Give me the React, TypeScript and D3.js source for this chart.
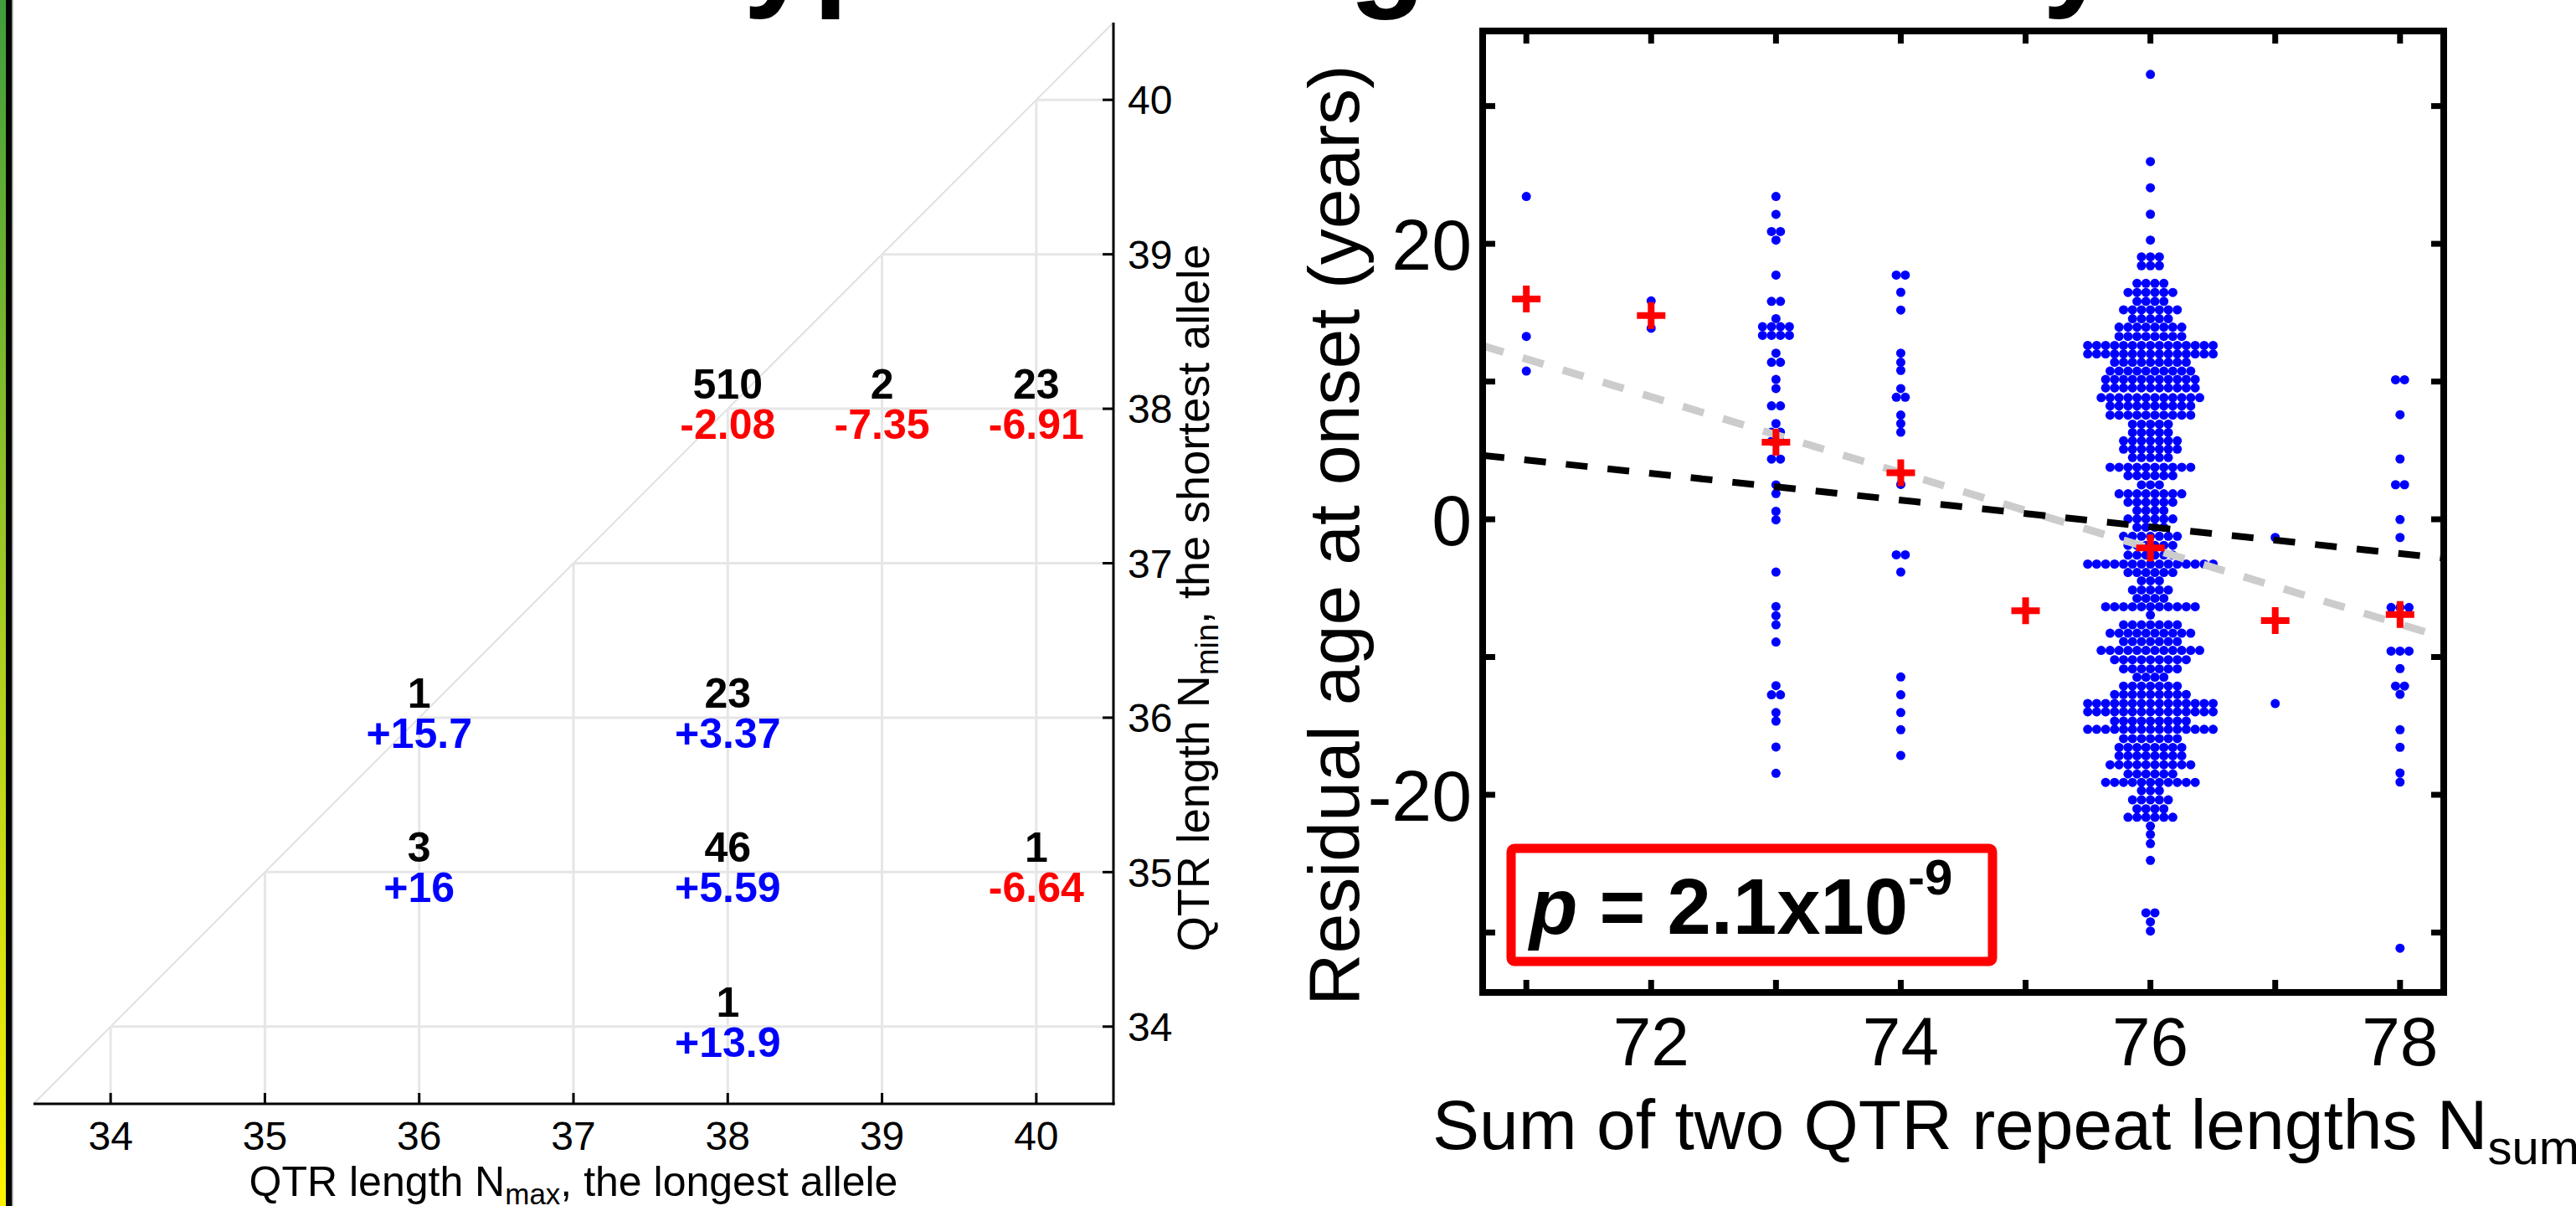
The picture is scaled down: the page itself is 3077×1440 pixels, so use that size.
import React, { useEffect, useRef } from 'react';
import * as d3 from 'd3';

const W = 3077, H = 1440;
const FONT = '"Liberation Sans", Arial, Helvetica, sans-serif';

// ---- left panel: (Nmax, Nmin) genotype grid ----
const gridTicks = [34, 35, 36, 37, 38, 39, 40];
const cellNmax = [38, 39, 40, 36, 38, 36, 38, 40, 38];
const cellNmin = [38, 38, 38, 36, 36, 35, 35, 35, 34];
const cellCount = [510, 2, 23, 1, 23, 3, 46, 1, 1];
const cellMean = [-2.08, -7.35, -6.91, 15.7, 3.37, 16, 5.59, -6.64, 13.9];

// ---- right panel: residual age at onset vs Nsum ----
const sumTicks = [71, 72, 73, 74, 75, 76, 77, 78];
const sumLabels = [72, 74, 76, 78];
const residTicks = [-30, -20, -10, 0, 10, 20, 30];
const residLabels = [-20, 0, 20];

// swarm rows: [residual (years), dots in the row]
const rows71 = [[23.44, 1], [13.28, 1], [10.76, 1]];
const rows72 = [[15.85, 1], [13.87, 1]];
const rows73 = [
  [23.44, 1], [22.14, 1], [20.89, 2], [20.27, 1], [17.73, 1], [15.82, 2], [14.57, 1],
  [13.98, 4], [13.35, 4], [12.06, 1], [11.4, 2], [10.15, 1], [9.49, 1], [8.24, 2],
  [6.95, 1], [6.32, 2], [5.66, 2], [4.37, 2], [2.5, 1], [1.87, 1], [0.58, 1], [-0.04, 1],
  [-3.83, 1], [-6.33, 1], [-7.0, 1], [-7.66, 1], [-8.91, 1], [-12.08, 1], [-12.74, 2],
  [-14.03, 1], [-14.65, 1], [-16.53, 1], [-18.44, 1],
];
const rows74 = [
  [17.73, 2], [16.48, 1], [15.19, 1], [12.06, 1], [11.4, 1], [10.81, 1], [9.49, 1],
  [8.86, 2], [7.57, 1], [6.95, 1], [6.32, 1], [3.34, 1], [2.53, 1], [-2.58, 2], [-3.83, 1],
  [-11.45, 1], [-12.74, 1], [-14.03, 1], [-15.28, 1], [-17.15, 1],
];
const rows75 = [[-6.64, 1]];
const rows76 = [
  [32.3, 1], [25.97, 1], [24.07, 1], [22.15, 1], [20.27, 1], [19.05, 3], [18.41, 3],
  [17.13, 4], [16.47, 6], [15.82, 4], [15.21, 7], [14.56, 5], [13.95, 8], [13.28, 8],
  [12.62, 15], [12.01, 15], [11.4, 9], [10.76, 10], [10.15, 11], [9.54, 11], [8.83, 12],
  [8.23, 10], [7.56, 10], [6.91, 5], [6.3, 5], [5.7, 7], [5.09, 7], [4.48, 5], [3.78, 10],
  [3.17, 6], [2.5, 3], [1.85, 8], [1.24, 6], [0.64, 4], [0.03, 6], [-0.58, 4], [-1.23, 7],
  [-1.89, 6], [-2.6, 6], [-3.25, 15], [-3.86, 6], [-4.46, 3], [-5.13, 5], [-5.74, 4],
  [-6.35, 11], [-6.95, 1], [-7.66, 7], [-8.27, 10], [-8.88, 7], [-9.52, 12], [-10.19, 9],
  [-10.86, 7], [-11.46, 4], [-12.11, 7], [-12.72, 9], [-13.37, 15], [-13.98, 15],
  [-14.65, 9], [-15.25, 15], [-15.92, 7], [-16.56, 8], [-17.17, 8], [-17.82, 10],
  [-18.49, 6], [-19.1, 11], [-19.7, 3], [-20.37, 5], [-21.02, 4], [-21.63, 6], [-22.27, 1],
  [-22.88, 1], [-23.55, 1], [-24.76, 1], [-28.57, 2], [-29.22, 1], [-29.89, 1],
];
const rows77 = [[-1.32, 1], [-13.38, 1]];
const rows78 = [
  [10.13, 2], [7.59, 1], [4.38, 1], [2.51, 2], [-0.02, 1], [-1.32, 1], [-6.4, 3], [-9.57, 3],
  [-10.84, 1], [-12.11, 2], [-12.71, 1], [-15.28, 1], [-16.55, 1], [-18.42, 1], [-19.08, 1],
  [-31.14, 1],
];
const swarmRows = [rows71, rows72, rows73, rows74, rows75, rows76, rows77, rows78];

const meanResid = [16, 14.8, 5.59, 3.37, -6.64, -2.08, -7.35, -6.91];
// dashed fits, [Nsum, residual] at the two box edges
const fitAll = [[70.65, 4.64], [78.35, -2.83]];
const fitMeans = [[70.65, 12.6], [78.35, -8.58]];

const App = () => {
  const svgRef = useRef(null);

  useEffect(() => {
    const svg = d3.select(svgRef.current);
    svg.selectAll('*').remove();
    svg.style('font-family', FONT);

    // left edge decoration
    const defs = svg.append('defs');
    const grad = defs.append('linearGradient').attr('id', 'edgeGrad')
      .attr('x1', 0).attr('y1', 0).attr('x2', 0).attr('y2', 1);
    grad.append('stop').attr('offset', 0).attr('stop-color', '#3f9e3c');
    grad.append('stop').attr('offset', 0.5).attr('stop-color', '#a5cb22');
    grad.append('stop').attr('offset', 1).attr('stop-color', '#fff200');
    svg.append('rect').attr('x', 0).attr('y', 0).attr('width', 7).attr('height', H).attr('fill', 'url(#edgeGrad)');
    svg.append('rect').attr('x', 7).attr('y', 0).attr('width', 7).attr('height', H).attr('fill', '#000');
    svg.append('rect').attr('x', 14).attr('y', 0).attr('width', 1.5).attr('height', H).attr('fill', '#888');

    // cropped title (only descenders visible)
    const title = svg.append('g').attr('font-size', 150).attr('font-weight', 'bold').attr('fill', '#000');
    [['type', 838], ['age', 1528], ['by', 2348]].forEach(([t, x]) => {
      title.append('text').attr('x', x).attr('y', -8).text(t);
    });

    // ================= LEFT PANEL =================
    const x = d3.scaleLinear().domain([33.5, 40.5]).range([40, 1330]);
    const y = d3.scaleLinear().domain([33.5, 40.5]).range([1318, 27]);
    const gl = svg.append('g');

    gl.append('line')
      .attr('x1', x(33.5)).attr('y1', y(33.5)).attr('x2', x(40.5)).attr('y2', y(40.5))
      .attr('stroke', '#e0e0e0').attr('stroke-width', 2);
    gridTicks.forEach(v => {
      gl.append('line').attr('x1', x(v)).attr('x2', x(40.5)).attr('y1', y(v)).attr('y2', y(v))
        .attr('stroke', '#e6e6e6').attr('stroke-width', 3);
      gl.append('line').attr('x1', x(v)).attr('x2', x(v)).attr('y1', y(v)).attr('y2', y(33.5))
        .attr('stroke', '#e6e6e6').attr('stroke-width', 3);
    });

    // axes
    gl.append('line').attr('x1', x(33.5)).attr('x2', x(40.5) + 1.5).attr('y1', y(33.5)).attr('y2', y(33.5))
      .attr('stroke', '#000').attr('stroke-width', 3);
    gl.append('line').attr('x1', x(40.5)).attr('x2', x(40.5)).attr('y1', y(40.5)).attr('y2', y(33.5) + 1.5)
      .attr('stroke', '#000').attr('stroke-width', 3);
    gridTicks.forEach(v => {
      gl.append('line').attr('x1', x(v)).attr('x2', x(v)).attr('y1', y(33.5)).attr('y2', y(33.5) - 13)
        .attr('stroke', '#000').attr('stroke-width', 3);
      gl.append('line').attr('x1', x(40.5)).attr('x2', x(40.5) - 13).attr('y1', y(v)).attr('y2', y(v))
        .attr('stroke', '#000').attr('stroke-width', 3);
      gl.append('text').attr('x', x(v)).attr('y', 1373).attr('text-anchor', 'middle')
        .attr('font-size', 48).text(v);
      gl.append('text').attr('x', 1347).attr('y', y(v)).attr('dy', '0.36em')
        .attr('font-size', 48).text(v);
    });

    const xt = gl.append('text').attr('x', x(37)).attr('y', 1428).attr('text-anchor', 'middle').attr('font-size', 50);
    xt.append('tspan').text('QTR length N');
    xt.append('tspan').attr('font-size', 35).attr('dy', 10).text('max');
    xt.append('tspan').attr('dy', -10).text(', the longest allele');

    const yt = gl.append('text').attr('transform', 'translate(1444,714) rotate(-90)')
      .attr('text-anchor', 'middle').attr('font-size', 54);
    yt.append('tspan').text('QTR length N');
    yt.append('tspan').attr('font-size', 38).attr('dy', 11).text('min');
    yt.append('tspan').attr('dy', -11).text(', the shortest allele');

    // cell annotations
    cellCount.forEach((n, i) => {
      const cx = x(cellNmax[i]), cy = y(cellNmin[i]);
      const m = cellMean[i];
      gl.append('text').attr('x', cx).attr('y', cy - 12).attr('text-anchor', 'middle')
        .attr('font-size', 50).attr('font-weight', 'bold').attr('fill', '#000').text(n);
      gl.append('text').attr('x', cx).attr('y', cy + 36).attr('text-anchor', 'middle')
        .attr('font-size', 50).attr('font-weight', 'bold')
        .attr('fill', m > 0 ? '#0000ff' : '#ff0000').text((m > 0 ? '+' : '') + m);
    });

    // ================= RIGHT PANEL =================
    const sx = d3.scaleLinear().domain([70.65, 78.35]).range([1771, 2919]);
    const sy = d3.scaleLinear().domain([-34.35, 35.45]).range([1185, 37]);
    const gr = svg.append('g');

    defs.append('clipPath').attr('id', 'boxClip').append('rect')
      .attr('x', sx(70.65)).attr('y', sy(35.45)).attr('width', sx(78.35) - sx(70.65)).attr('height', sy(-34.35) - sy(35.45));

    // swarm dots
    const dx = 10.7;
    const dots = [];
    swarmRows.forEach((rows, k) => {
      rows.forEach(([v, n]) => {
        for (let j = 0; j < n; j++) dots.push({ s: sumTicks[k], v, off: (j - (n - 1) / 2) * dx });
      });
    });
    gr.append('g').selectAll('circle').data(dots).join('circle')
      .attr('cx', d => sx(d.s) + d.off).attr('cy', d => sy(d.v)).attr('r', 5.5).attr('fill', '#0000ff');

    const line = d3.line().x(d => sx(d[0])).y(d => sy(d[1]));
    const fits = gr.append('g').attr('clip-path', 'url(#boxClip)');
    fits.append('path').attr('d', line(fitMeans)).attr('fill', 'none').attr('stroke', '#cccccc')
      .attr('stroke-width', 9).attr('stroke-dasharray', '26 24');
    fits.append('path').attr('d', line(fitAll)).attr('fill', 'none').attr('stroke', '#000')
      .attr('stroke-width', 8).attr('stroke-dasharray', '26 24');

    // mean crosses
    gr.append('g').selectAll('path.cross').data(meanResid).join('path').attr('class', 'cross')
      .attr('transform', (d, i) => `translate(${sx(sumTicks[i])},${sy(d)})`)
      .attr('d', 'M-17,0H17M0,-16V16').attr('stroke', '#ff0000').attr('stroke-width', 8).attr('fill', 'none');

    // box + ticks
    const bx0 = sx(70.65), bx1 = sx(78.35), by0 = sy(35.45), by1 = sy(-34.35);
    sumTicks.forEach(t => {
      gr.append('line').attr('x1', sx(t)).attr('x2', sx(t)).attr('y1', by1).attr('y2', by1 - 15)
        .attr('stroke', '#000').attr('stroke-width', 7);
      gr.append('line').attr('x1', sx(t)).attr('x2', sx(t)).attr('y1', by0).attr('y2', by0 + 15)
        .attr('stroke', '#000').attr('stroke-width', 7);
    });
    residTicks.forEach(t => {
      gr.append('line').attr('x1', bx0).attr('x2', bx0 + 15).attr('y1', sy(t)).attr('y2', sy(t))
        .attr('stroke', '#000').attr('stroke-width', 7);
      gr.append('line').attr('x1', bx1).attr('x2', bx1 - 15).attr('y1', sy(t)).attr('y2', sy(t))
        .attr('stroke', '#000').attr('stroke-width', 7);
    });
    gr.append('rect').attr('x', bx0).attr('y', by0).attr('width', bx1 - bx0).attr('height', by1 - by0)
      .attr('fill', 'none').attr('stroke', '#000').attr('stroke-width', 8);

    sumLabels.forEach(t => {
      gr.append('text').attr('x', sx(t)).attr('y', 1272).attr('text-anchor', 'middle')
        .attr('font-size', 82).text(t);
    });
    residLabels.forEach(t => {
      gr.append('text').attr('x', 1758).attr('y', sy(t)).attr('dy', '0.36em').attr('text-anchor', 'end')
        .attr('font-size', 86).text(t);
    });

    const rx = gr.append('text').attr('x', 1711).attr('y', 1372).attr('font-size', 84);
    rx.append('tspan').text('Sum of two QTR repeat lengths N');
    rx.append('tspan').attr('font-size', 58).attr('dy', 18).text('sum');

    gr.append('text').attr('transform', 'translate(1623,639) rotate(-90)').attr('text-anchor', 'middle')
      .attr('font-size', 86).text('Residual age at onset (years)');

    // p-value box
    gr.append('rect').attr('x', 1805).attr('y', 1013).attr('width', 575).attr('height', 135).attr('rx', 4)
      .attr('fill', '#fff').attr('stroke', '#ff0000').attr('stroke-width', 11);
    const pt = gr.append('text').attr('x', 1827).attr('y', 1115).attr('font-size', 94).attr('font-weight', 'bold');
    pt.append('tspan').attr('font-style', 'italic').text('p');
    pt.append('tspan').text(' = 2.1x10');
    pt.append('tspan').attr('font-size', 60).attr('dy', -47).text('-9');
  }, []);

  return (
    <svg ref={svgRef} width={W} height={H}
      style={{ position: 'absolute', left: 0, top: 0, display: 'block', background: '#fff' }} />
  );
};

export default App;
